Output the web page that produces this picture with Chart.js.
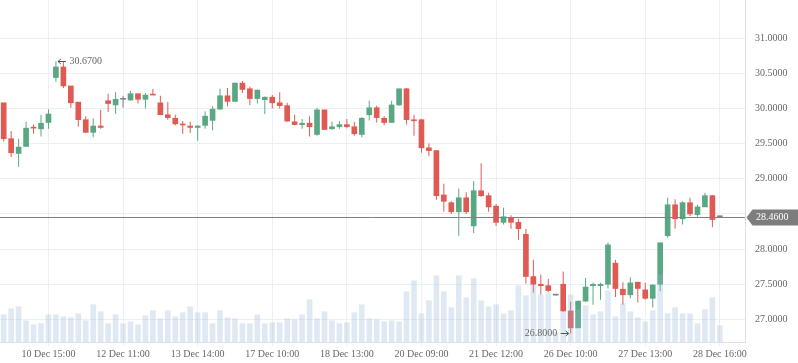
<!DOCTYPE html>
<html>
<head>
<meta charset="utf-8">
<script src="https://cdn.jsdelivr.net/npm/chart.js@4.4.0/dist/chart.umd.min.js"></script>
<style>
  html, body { margin: 0; padding: 0; background: #fff; }
  canvas { display: block; }
</style>
</head>
<body>
<canvas id="candleChart" width="798" height="363"></canvas>
<script>
// one candle per bar, oldest first
const opens = [
  30.08, 29.57, 29.36, 29.46, 29.73, 29.71, 29.80, 30.44, 30.59, 30.32,
  30.09, 29.84, 29.66, 29.75, 30.11, 30.05, 30.13, 30.12, 30.21, 30.13,
  30.20, 30.08, 29.91, 29.86, 29.775, 29.75, 29.73, 29.76, 29.83, 29.99,
  30.18, 30.10, 30.36, 30.28, 30.14, 30.125, 30.16, 30.08, 30.04, 29.81,
  29.77, 29.79, 29.63, 29.98, 29.71, 29.74, 29.77, 29.74, 29.63, 29.91,
  30.01, 29.86, 29.80, 30.05, 30.28, 29.83, 29.84, 29.44, 29.40, 28.77,
  28.66, 28.53, 28.73, 28.33, 28.83, 28.76, 28.61, 28.38, 28.45, 28.38,
  28.21, 27.61, 27.50, 27.48, 27.345, 27.50, 27.12, 26.88, 27.26, 27.48,
  27.48, 27.50, 27.80, 27.43, 27.35, 27.53, 27.42, 27.30, 27.50, 28.19,
  28.63, 28.43, 28.66, 28.49, 28.60, 28.76, 28.46
];
const highs = [
  30.08, 29.68, 29.57, 29.81, 29.77, 29.91, 29.99, 30.67, 30.66, 30.32,
  30.09, 29.89, 29.86, 29.98, 30.21, 30.23, 30.18, 30.25, 30.21, 30.22,
  30.28, 30.18, 30.09, 29.91, 29.82, 29.81, 29.76, 29.96, 30.03, 30.28,
  30.29, 30.37, 30.39, 30.31, 30.27, 30.17, 30.19, 30.23, 30.08, 29.91,
  29.85, 29.89, 30.01, 29.98, 29.81, 29.82, 29.85, 29.81, 29.88, 30.11,
  30.04, 29.89, 30.11, 30.28, 30.29, 29.91, 29.85, 29.50, 29.41, 28.93,
  28.68, 28.86, 28.81, 28.97, 29.22, 28.80, 28.64, 28.59, 28.48, 28.43,
  28.29, 27.85, 27.64, 27.58, 27.345, 27.68, 27.25, 27.27, 27.59, 27.52,
  27.52, 28.09, 27.85, 27.53, 27.60, 27.53, 27.52, 27.50, 28.09, 28.73,
  28.71, 28.68, 28.73, 28.63, 28.80, 28.77, 28.46
];
const lows = [
  29.53, 29.31, 29.17, 29.45, 29.64, 29.60, 29.71, 30.38, 30.29, 30.01,
  29.74, 29.65, 29.59, 29.71, 29.95, 29.92, 30.01, 30.11, 30.07, 30.00,
  30.19, 29.91, 29.84, 29.76, 29.64, 29.65, 29.54, 29.71, 29.69, 29.98,
  30.03, 30.10, 30.22, 30.05, 30.07, 29.92, 30.00, 30.00, 29.81, 29.76,
  29.71, 29.60, 29.61, 29.70, 29.70, 29.71, 29.72, 29.61, 29.59, 29.83,
  29.80, 29.76, 29.80, 30.04, 29.77, 29.61, 29.37, 29.32, 28.70, 28.53,
  28.50, 28.19, 28.50, 28.23, 28.74, 28.53, 28.33, 28.35, 28.29, 28.13,
  27.51, 27.38, 27.35, 27.39, 27.345, 27.11, 26.80, 26.88, 27.25, 27.21,
  27.28, 27.44, 27.32, 27.21, 27.30, 27.24, 27.28, 27.17, 27.40, 28.16,
  28.29, 28.35, 28.47, 28.46, 28.60, 28.31, 28.46
];
const closes = [
  29.57, 29.37, 29.45, 29.72, 29.72, 29.79, 29.92, 30.59, 30.32, 30.08,
  29.84, 29.66, 29.75, 29.73, 30.07, 30.13, 30.13, 30.21, 30.13, 30.19,
  30.19, 29.91, 29.87, 29.78, 29.765, 29.73, 29.75, 29.89, 29.99, 30.18,
  30.10, 30.36, 30.27, 30.14, 30.26, 30.16, 30.08, 30.04, 29.82, 29.77,
  29.79, 29.74, 29.98, 29.70, 29.74, 29.77, 29.74, 29.64, 29.86, 30.01,
  29.87, 29.80, 30.05, 30.28, 29.84, 29.825, 29.44, 29.40, 28.76, 28.68,
  28.53, 28.73, 28.53, 28.83, 28.76, 28.60, 28.38, 28.46, 28.38, 28.29,
  27.61, 27.50, 27.48, 27.41, 27.345, 27.12, 26.88, 27.26, 27.46, 27.50,
  27.50, 28.06, 27.44, 27.35, 27.52, 27.44, 27.30, 27.49, 28.09, 28.63,
  28.43, 28.66, 28.50, 28.60, 28.76, 28.42, 28.46
];
const volumes = [
  273, 333, 353, 213, 173, 183, 273, 273, 253, 243,
  283, 213, 373, 303, 183, 273, 183, 203, 173, 263,
  313, 233, 313, 253, 293, 353, 293, 293, 183, 313,
  243, 233, 183, 183, 273, 183, 193, 193, 233, 223,
  273, 423, 233, 303, 213, 183, 193, 293, 373, 233,
  223, 203, 213, 203, 503, 613, 283, 413, 663, 503,
  343, 663, 443, 633, 413, 353, 373, 283, 313, 563,
  463, 573, 473, 493, 93, 303, 473, 323, 363, 273,
  303, 513, 253, 383, 303, 243, 203, 313, 673, 283,
  343, 283, 283, 183, 323, 443, 163
];

const tickIndexes = [6, 16, 26, 36, 46, 56, 66, 76, 86, 96];
const tickLabels = ['10 Dec 15:00', '12 Dec 11:00', '13 Dec 14:00', '17 Dec 10:00', '18 Dec 13:00',
  '20 Dec 09:00', '21 Dec 12:00', '26 Dec 10:00', '27 Dec 13:00', '28 Dec 16:00'];
const priceTicks = [27.0, 27.5, 28.0, 28.5, 29.0, 29.5, 30.0, 30.5, 31.0];
const lastPrice = 28.46;

const UP = '#5aa883';
const DOWN = '#e05a54';
const FLAT = '#808080';
const FONT = '"Liberation Serif", "Times New Roman", serif';

const candleColors = opens.map((o, i) => closes[i] > o ? UP : (closes[i] < o ? DOWN : FLAT));

// last price line + tag, and the high / low notes
const markers = {
  id: 'markers',
  afterDraw(chart) {
    const { ctx, chartArea: area, scales: { x, y } } = chart;
    ctx.save();

    const py = Math.round(y.getPixelForValue(lastPrice)) + 0.5;
    ctx.strokeStyle = '#808080';
    ctx.lineWidth = 1;
    ctx.beginPath();
    ctx.moveTo(area.left, py);
    ctx.lineTo(area.right, py);
    ctx.stroke();

    const tagLeft = area.right + 1.5;
    ctx.fillStyle = '#7d7d7d';
    ctx.beginPath();
    ctx.moveTo(tagLeft, py);
    ctx.lineTo(tagLeft + 6, py - 8);
    ctx.lineTo(chart.width, py - 8);
    ctx.lineTo(chart.width, py + 8);
    ctx.lineTo(tagLeft + 6, py + 8);
    ctx.closePath();
    ctx.fill();
    ctx.fillStyle = '#fff';
    ctx.font = '10px ' + FONT;
    ctx.textBaseline = 'middle';
    ctx.textAlign = 'left';
    ctx.fillText(lastPrice.toFixed(4), area.right + 11, py);

    const note = (i, value, dir) => {
      const cx = x.getPixelForValue(i);
      const cy = Math.round(y.getPixelForValue(value)) + 0.5;
      const a = cx + dir * 2, b = cx + dir * 10;
      ctx.strokeStyle = '#555';
      ctx.beginPath();
      ctx.moveTo(a, cy);
      ctx.lineTo(b, cy);
      ctx.moveTo(a + dir * 3, cy - 2.5);
      ctx.lineTo(a, cy);
      ctx.lineTo(a + dir * 3, cy + 2.5);
      ctx.stroke();
      ctx.fillStyle = '#666';
      ctx.textAlign = dir > 0 ? 'left' : 'right';
      ctx.fillText(value.toFixed(4), b + dir * 3.5, cy);
    };
    const hi = highs.indexOf(Math.max(...highs));
    const lo = lows.indexOf(Math.min(...lows));
    note(hi, highs[hi], 1);
    note(lo, lows[lo], -1);

    ctx.restore();
  }
};

new Chart(document.getElementById('candleChart'), {
  type: 'bar',
  data: {
    datasets: [
      {
        label: 'Volume',
        data: volumes.map((v, i) => ({ x: i, y: v })),
        yAxisID: 'yVol',
        backgroundColor: 'rgba(148,182,215,0.3)',
        barThickness: 5,
        grouped: false,
        order: 0
      },
      {
        label: 'Body',
        data: opens.map((o, i) => ({ x: i, y: [o, closes[i]] })),
        yAxisID: 'y',
        backgroundColor: candleColors,
        barThickness: 5,
        minBarLength: 1,
        grouped: false,
        order: 1
      },
      {
        label: 'Wick',
        data: lows.map((l, i) => ({ x: i, y: [l, highs[i]] })),
        yAxisID: 'y',
        backgroundColor: candleColors,
        barThickness: 1,
        inflateAmount: 0,
        minBarLength: 1,
        grouped: false,
        order: 2
      }
    ]
  },
  options: {
    responsive: false,
    animation: false,
    devicePixelRatio: 1,
    layout: { padding: 0 },
    plugins: { legend: { display: false }, tooltip: { enabled: false } },
    scales: {
      x: {
        type: 'linear',
        min: -0.496,
        max: 99.37,
        offset: false,
        grid: { color: '#edf0f3', offset: false, tickLength: 4 },
        border: { color: '#dde0e4' },
        afterBuildTicks: s => { s.ticks = tickIndexes.map(v => ({ value: v })); },
        ticks: {
          autoSkip: false,
          maxRotation: 0,
          padding: 2,
          color: '#666',
          font: { family: FONT, size: 10 },
          callback: v => tickLabels[tickIndexes.indexOf(v)]
        },
        afterFit: s => { s.height = 21; s.paddingLeft = 0; s.paddingRight = 0; }
      },
      y: {
        position: 'right',
        min: 26.679,
        max: 31.542,
        grid: { color: '#edf0f3', drawTicks: false },
        border: { color: '#dde0e4' },
        afterBuildTicks: s => { s.ticks = priceTicks.map(v => ({ value: v })); },
        ticks: {
          padding: 10,
          color: '#666',
          font: { family: FONT, size: 10 },
          callback: v => v.toFixed(4)
        },
        afterFit: s => { s.width = 53; s.paddingTop = 0; s.paddingBottom = 0; }
      },
      yVol: {
        type: 'linear',
        display: false,
        min: 0,
        max: 3423
      }
    }
  },
  plugins: [markers]
});
</script>
</body>
</html>
